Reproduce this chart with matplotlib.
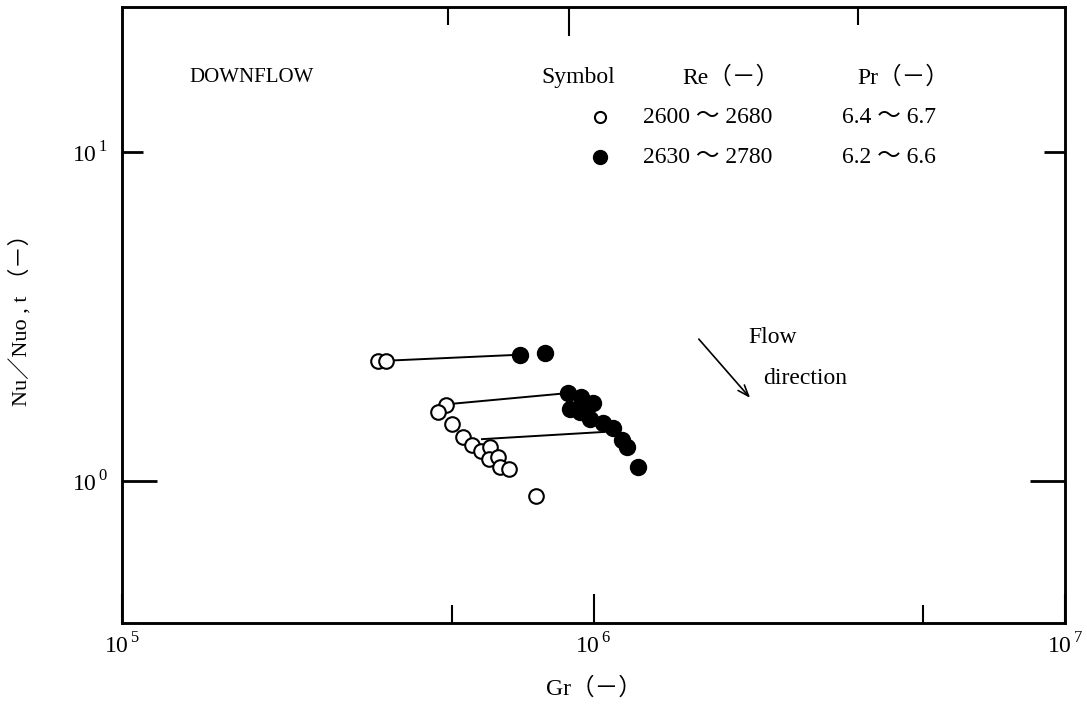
import matplotlib
matplotlib.use("Agg")
import matplotlib.pyplot as plt
from matplotlib.ticker import FixedLocator, NullFormatter, FixedFormatter

plt.rcParams['font.family'] = ['Liberation Serif', 'Noto Sans CJK JP']
plt.rcParams['mathtext.fontset'] = 'custom'
plt.rcParams['mathtext.rm'] = 'Liberation Serif'

# open circles (Re 2600~2680)
open_gr = [3.49e5, 3.63e5, 4.87e5, 4.68e5, 5.01e5, 5.29e5, 5.53e5, 5.77e5,
           6.03e5, 6.00e5, 6.27e5, 6.34e5, 6.62e5, 7.55e5]
open_nu = [2.32, 2.32, 1.70, 1.62, 1.49, 1.36, 1.29, 1.23,
           1.27, 1.17, 1.18, 1.10, 1.09, 0.90]

# filled circles (Re 2630~2780)
filled_gr = [6.98e5, 7.89e5, 8.83e5, 9.40e5, 9.97e5, 8.91e5, 9.36e5,
             9.83e5, 1.047e6, 1.10e6, 1.15e6, 1.18e6, 1.24e6]
filled_nu = [2.42, 2.45, 1.85, 1.80, 1.73, 1.65, 1.62,
             1.54, 1.50, 1.45, 1.33, 1.27, 1.10]

# connecting lines open -> filled
link_gr_start = [3.63e5, 4.87e5, 5.80e5]
link_nu_start = [2.32, 1.71, 1.34]
link_gr_end = [6.98e5, 8.83e5, 1.057e6]
link_nu_end = [2.42, 1.85, 1.41]

x_tick_vals = [1e5, 1e6, 1e7]
x_tick_labels = [r'$\mathrm{10}^{\,\mathrm{5}}$', r'$\mathrm{10}^{\,\mathrm{6}}$',
                 r'$\mathrm{10}^{\,\mathrm{7}}$']

fig = plt.figure(figsize=(10.87, 7.05), dpi=100)
ax = fig.add_axes([0.1122, 0.1163, 0.8676, 0.8738])
ax.set_xscale('log')
ax.set_yscale('log')
ax.set_xlim(1e5, 1e7)
ax.set_ylim(0.370, 27.6)

for xs, ys, xe, ye in zip(link_gr_start, link_nu_start, link_gr_end, link_nu_end):
    ax.plot([xs, xe], [ys, ye], color='black', lw=1.4, zorder=2)

ax.plot(open_gr, open_nu, 'o', ms=10.5, mfc='white', mec='black', mew=1.5,
        ls='none', zorder=3)
ax.plot(filled_gr, filled_nu, 'o', ms=11.5, mfc='black', mec='black',
        ls='none', zorder=4)

for s in ax.spines.values():
    s.set_linewidth(1.8)

# x ticks
ax.xaxis.set_major_locator(FixedLocator(x_tick_vals))
ax.xaxis.set_major_formatter(FixedFormatter(x_tick_labels))
ax.xaxis.set_minor_locator(FixedLocator([5e5, 5e6]))
ax.xaxis.set_minor_formatter(NullFormatter())
ax.tick_params(axis='x', which='major', direction='in', length=21, width=1.5,
               labelsize=17, pad=7)
ax.tick_params(axis='x', which='minor', direction='in', length=13, width=1.5)

# y ticks
ax.yaxis.set_major_locator(FixedLocator([1.0]))
ax.yaxis.set_major_formatter(FixedFormatter([r'$\mathrm{10}^{\,\mathrm{0}}$']))
ax.yaxis.set_minor_locator(FixedLocator([10.0]))
ax.yaxis.set_minor_formatter(FixedFormatter([r'$\mathrm{10}^{\,\mathrm{1}}$']))
ax.tick_params(axis='y', which='major', direction='in', length=25, width=2,
               labelsize=17, pad=10, right=True)
ax.tick_params(axis='y', which='minor', direction='in', length=15, width=2,
               labelsize=17, pad=10, right=True)

# top ticks
ax2 = ax.twiny()
ax2.set_xscale('log')
ax2.set_xlim(ax.get_xlim())
ax2.xaxis.set_major_locator(FixedLocator([8.87e5]))
ax2.xaxis.set_minor_locator(FixedLocator([4.91e5, 3.64e6]))
ax2.xaxis.set_major_formatter(NullFormatter())
ax2.xaxis.set_minor_formatter(NullFormatter())
ax2.tick_params(axis='x', which='major', direction='in', length=21, width=1.5)
ax2.tick_params(axis='x', which='minor', direction='in', length=13, width=1.5)
for s in ax2.spines.values():
    s.set_linewidth(1.8)

ax.set_xlabel('Gr（－）', fontsize=17, labelpad=14)
ax.set_ylabel('Nu／Nuo , t （－）', fontsize=16)
ax.yaxis.set_label_coords(-0.096, 0.5)

# annotations
tr = ax.transAxes
ax.text(0.072, 0.885, 'DOWNFLOW', transform=tr, fontsize=15, va='center')
ax.text(0.445, 0.886, 'Symbol', transform=tr, fontsize=17, va='center')
ax.text(0.594, 0.886, 'Re（－）', transform=tr, fontsize=17, va='center')
ax.text(0.780, 0.886, 'Pr（－）', transform=tr, fontsize=17, va='center')

ax.plot([0.507], [0.821], 'o', ms=8, mfc='white', mec='black', mew=1.5,
        transform=tr, clip_on=False)
ax.plot([0.507], [0.756], 'o', ms=10, mfc='black', mec='black',
        transform=tr, clip_on=False)
ax.text(0.5525, 0.821, '2600 ～ 2680', transform=tr, fontsize=17, va='center')
ax.text(0.7635, 0.821, '6.4 ～ 6.7', transform=tr, fontsize=17, va='center')
ax.text(0.5525, 0.756, '2630 ～ 2780', transform=tr, fontsize=17, va='center')
ax.text(0.7635, 0.756, '6.2 ～ 6.6', transform=tr, fontsize=17, va='center')

ax.text(0.664, 0.4627, 'Flow', transform=tr, fontsize=17, va='center')
ax.text(0.680, 0.3977, 'direction', transform=tr, fontsize=17, va='center')
ax.annotate('', xy=(0.668, 0.362), xytext=(0.6097, 0.4643), xycoords=tr,
            textcoords=tr,
            arrowprops=dict(arrowstyle='->, head_length=0.8, head_width=0.3',
                            color='black', lw=1.2))

fig.savefig('out.png', dpi=100)
